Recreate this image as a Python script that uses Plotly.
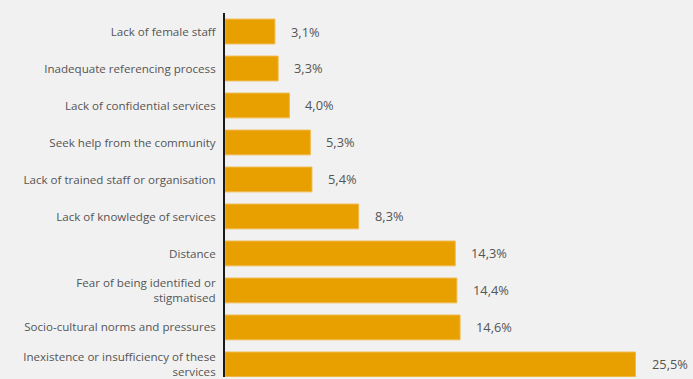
import plotly.graph_objects as go

# Reasons given for not using support services (share of respondents, %)
categories = [
    "Lack of female staff",
    "Inadequate referencing process",
    "Lack of confidential services",
    "Seek help from the community",
    "Lack of trained staff or organisation",
    "Lack of knowledge of services",
    "Distance",
    "Fear of being identified or<br>stigmatised",
    "Socio-cultural norms and pressures",
    "Inexistence or insufficiency of these<br>services",
]
values = [3.1, 3.3, 4.0, 5.3, 5.4, 8.3, 14.3, 14.4, 14.6, 25.5]

BAR_COLOR = "#E8A000"
BG = "#F1F1F1"
TEXT = "#555555"
FONT = "Open Sans"

fig = go.Figure(
    go.Bar(
        x=values,
        y=categories,
        orientation="h",
        marker=dict(color=BAR_COLOR, line=dict(color="#F0B94A", width=1)),
        hoverinfo="skip",
    )
)

# value labels to the right of each bar, decimal comma
for cat, v in zip(categories, values):
    fig.add_annotation(
        x=v,
        y=cat,
        text=f"{v:.1f}".replace(".", ",") + "%",
        showarrow=False,
        xanchor="left",
        xshift=14,
        font=dict(family=FONT, size=12.8, color=TEXT),
    )

fig.update_layout(
    width=693,
    height=379,
    margin=dict(l=225, r=0, t=13, b=0),
    paper_bgcolor=BG,
    plot_bgcolor=BG,
    bargap=0.33,
    showlegend=False,
    font=dict(family=FONT, size=11.6, color=TEXT),
    xaxis=dict(
        range=[0, 29.07],
        visible=False,
        fixedrange=True,
    ),
    yaxis=dict(
        categoryorder="array",
        categoryarray=categories,
        range=[9.34, -0.5],
        showline=True,
        linecolor="#1a1a1a",
        linewidth=2,
        showgrid=False,
        zeroline=False,
        ticks="",
        ticklabelstandoff=5,
        tickfont=dict(family=FONT, size=11.6, color=TEXT),
        fixedrange=True,
    ),
)

fig.write_html("out.html")
